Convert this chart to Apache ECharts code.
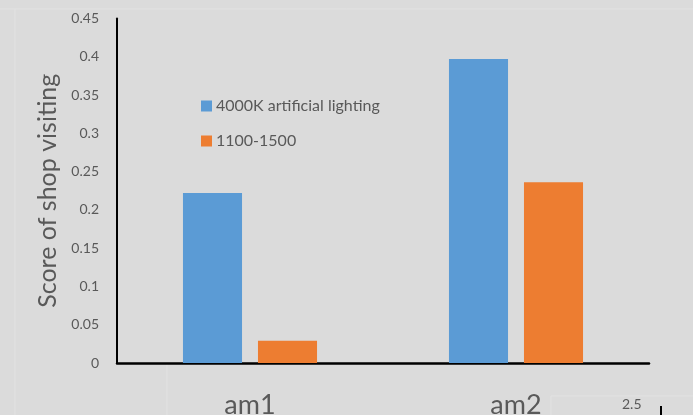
<!DOCTYPE html>
<html>
<head>
<meta charset="utf-8">
<script src="https://cdn.jsdelivr.net/npm/echarts@6/dist/echarts.min.js"></script>
<style>
  html, body { margin: 0; padding: 0; background: #dbdbdb; }
  #chart { width: 693px; height: 415px; }
</style>
</head>
<body>
<div id="chart"></div>
<script>
// Groups on the category axis
const categories = ['am1', 'am2'];
// Scores per lighting condition
const lighting4000K = [0.222, 0.397];
const lighting1100to1500 = [0.029, 0.236];
// Value axis ticks
const yTicks = [0, 0.05, 0.1, 0.15, 0.2, 0.25, 0.3, 0.35, 0.4, 0.45];

const FONT = 'Lato, "Open Sans", sans-serif';
const GREY = '#595959';

const chart = echarts.init(document.getElementById('chart'));
chart.setOption({
  backgroundColor: '#dbdbdb',
  animation: false,
  textStyle: { fontFamily: FONT },
  grid: { left: 117, right: 44, top: 18.5, bottom: 52, containLabel: false, outerBoundsMode: 'none' },
  legend: {
    orient: 'vertical',
    left: 196,
    top: 98,
    padding: [0, 5, 0, 5],
    itemWidth: 11,
    itemHeight: 11,
    itemGap: 19,
    icon: 'rect',
    textStyle: { fontFamily: FONT, fontSize: 16, lineHeight: 16, color: GREY, padding: [0, 0, 0, -1] },
    data: ['4000K artificial lighting', '1100-1500']
  },
  xAxis: {
    type: 'category',
    data: categories,
    axisLine: { lineStyle: { color: '#000', width: 2.5 } },
    axisTick: { show: false },
    axisLabel: { color: GREY, fontSize: 27, fontFamily: FONT, margin: 29 }
  },
  yAxis: {
    type: 'value',
    min: yTicks[0],
    max: yTicks[yTicks.length - 1],
    interval: 0.05,
    name: 'Score of shop visiting',
    nameLocation: 'middle',
    nameGap: 55,
    nameTextStyle: { color: GREY, fontSize: 25, fontFamily: FONT },
    axisLine: { show: true, lineStyle: { color: '#000', width: 2 } },
    axisTick: { show: false },
    splitLine: { show: false },
    axisLabel: {
      color: GREY, fontSize: 14, fontFamily: FONT, margin: 18,
      formatter: v => String(parseFloat(v.toFixed(2)))
    }
  },
  series: [
    {
      name: '4000K artificial lighting',
      type: 'bar',
      data: lighting4000K,
      itemStyle: { color: '#5b9bd5' },
      barGap: '27%',
      barCategoryGap: '49.6%'
    },
    {
      name: '1100-1500',
      type: 'bar',
      data: lighting1100to1500,
      itemStyle: { color: '#ed7d31' }
    }
  ],
  graphic: [
    // faint sheet cell borders behind the chart
    { type: 'line', shape: { x1: 0, y1: 9, x2: 693, y2: 9 }, style: { stroke: '#e2e2e2', lineWidth: 1 }, z: -1 },
    { type: 'line', shape: { x1: 15, y1: 9, x2: 15, y2: 415 }, style: { stroke: '#e2e2e2', lineWidth: 1 }, z: -1 },
    { type: 'line', shape: { x1: 167, y1: 364, x2: 167, y2: 415 }, style: { stroke: '#e2e2e2', lineWidth: 1 }, z: -1 },
    { type: 'line', shape: { x1: 551, y1: 396, x2: 551, y2: 415 }, style: { stroke: '#e2e2e2', lineWidth: 1 }, z: -1 },
    { type: 'line', shape: { x1: 551, y1: 396, x2: 693, y2: 396 }, style: { stroke: '#e2e2e2', lineWidth: 1 }, z: -1 },
    // neighbouring chart fragment at the lower right
    { type: 'text', left: 622, top: 397, style: { text: '2.5', fill: GREY, font: '14px ' + FONT } },
    { type: 'line', shape: { x1: 661, y1: 406, x2: 661, y2: 415 }, style: { stroke: '#000', lineWidth: 2 } }
  ]
});
</script>
</body>
</html>
